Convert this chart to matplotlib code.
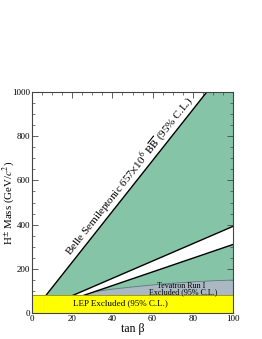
import numpy as np
import matplotlib
matplotlib.use("Agg")
import matplotlib.pyplot as plt
from matplotlib.ticker import MultipleLocator

# limits
lep_limit = 79.3
belle_tanb = [0, 100]
belle_mass = [0, 1150]
wedge_hi_tanb = [0, 100]
wedge_hi_mass = [0, 392]
wedge_lo_tanb = [0, 100]
wedge_lo_mass = [0, 310]
tev_tanb = [22, 30, 40, 50, 60, 70, 80, 90, 100]
tev_mass = [79.3, 95, 108, 118, 127, 135, 141, 146, 149]

plt.rcParams['font.family'] = ['Liberation Serif', 'DejaVu Serif']
plt.rcParams['mathtext.fontset'] = 'stix'

green = '#86c4a8'
grey = '#aab8c4'
fig = plt.figure(figsize=(2.62, 3.39), dpi=100)
ax = fig.add_axes([32/262, 26/339, 201/262, 221/339])
ax.set_xlim(0, 100)
ax.set_ylim(0, 1000)

def tanb_at(m, xs, ys):
    return np.interp(m, ys, xs)

# green region right of the Belle line
b0 = tanb_at(lep_limit, belle_tanb, belle_mass)
b1 = tanb_at(1000, belle_tanb, belle_mass)
ax.fill([b0, b1, 100, 100], [lep_limit, 1000, 1000, lep_limit], color=green, lw=0, zorder=1)

# tevatron run I
ax.fill_between(tev_tanb, lep_limit, tev_mass, color=grey, lw=0, zorder=2)
ax.plot(tev_tanb, tev_mass, color='#6a7680', lw=0.6, zorder=3)

# allowed wedge
h0 = tanb_at(lep_limit, wedge_hi_tanb, wedge_hi_mass)
l0 = tanb_at(lep_limit, wedge_lo_tanb, wedge_lo_mass)
ax.fill([h0, 100, 100, l0], [lep_limit, wedge_hi_mass[1], wedge_lo_mass[1], lep_limit],
        color='white', lw=0, zorder=4)
ax.plot([h0, 100], [lep_limit, wedge_hi_mass[1]], 'k', lw=1.0, zorder=5)
ax.plot([l0, 100], [lep_limit, wedge_lo_mass[1]], 'k', lw=1.0, zorder=5)
ax.plot([b0, b1], [lep_limit, 1000], 'k', lw=1.0, zorder=5)

# LEP band
ax.axhspan(0, lep_limit, color='#ffff00', lw=0, zorder=6)
ax.axhline(lep_limit, color='#555500', lw=0.4, zorder=6)

ax.text(44, 45, 'LEP Excluded (95% C.L.)', fontsize=6.5, ha='center', va='center', zorder=7)
ax.text(74, 121, 'Tevatron Run I', fontsize=5.8, ha='center', va='center', zorder=7)
ax.text(75, 92, 'Excluded (95% C.L.)', fontsize=5.8, ha='center', va='center', zorder=7)

# label along the Belle line
p = ax.transData.transform([[b0, lep_limit], [b1, 1000]])
ang = np.degrees(np.arctan2(p[1, 1] - p[0, 1], p[1, 0] - p[0, 0]))
tm = 51.5
ax.text(tm, np.interp(tm, belle_tanb, belle_mass) + 6,
        r'Belle Semileptonic 657$\times$10$^6$ $\mathrm{B\overline{B}}$ (95% C.L.)',
        fontsize=8, rotation=ang, rotation_mode='anchor', ha='center', va='bottom', zorder=7)

ax.xaxis.set_major_locator(MultipleLocator(20))
ax.xaxis.set_minor_locator(MultipleLocator(5))
ax.yaxis.set_major_locator(MultipleLocator(200))
ax.yaxis.set_minor_locator(MultipleLocator(50))
ax.tick_params(which='both', direction='in', top=True, right=True, labelsize=6.5,
               color='#444444', pad=1.5)
ax.tick_params(which='major', length=4, width=0.6)
ax.tick_params(which='minor', length=2, width=0.5)
for s in ax.spines.values():
    s.set_linewidth(0.8)
    s.set_color('#444444')
    s.set_zorder(8)

ax.set_xlabel('tan β', fontsize=8.5)
ax.set_ylabel(r'H$^{\pm}$ Mass (GeV/$c^2$)', fontsize=7.8)
ax.xaxis.set_label_coords(0.5, -0.045)
ax.xaxis.label.set_va('top')
ax.yaxis.set_label_coords(-0.076, 0.5)

fig.savefig('out.png', dpi=100)
